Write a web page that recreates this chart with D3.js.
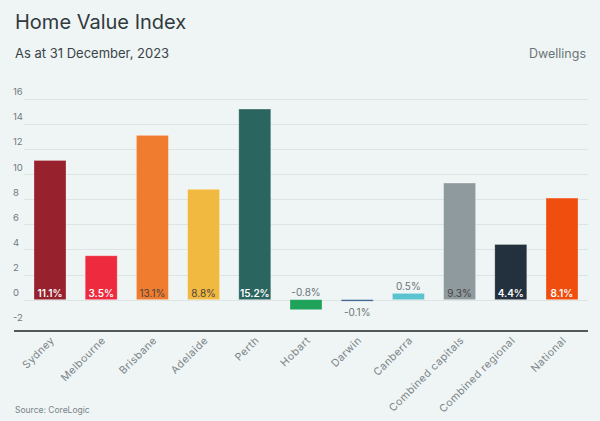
<!DOCTYPE html>
<html lang="en">
<head>
<meta charset="UTF-8">
<title>Home Value Index</title>
<style>
  body { margin: 0; background: #eff4f4; }
  text { font-family: "Inter", "Open Sans", sans-serif; }
</style>
</head>
<body>
<div id="chart"></div>
<script src="https://cdn.jsdelivr.net/npm/d3@7"></script>
<script>
const regions = ["Sydney", "Melbourne", "Brisbane", "Adelaide", "Perth", "Hobart", "Darwin",
                 "Canberra", "Combined capitals", "Combined regional", "National"];
const changes = [11.1, 3.5, 13.1, 8.8, 15.2, -0.8, -0.1, 0.5, 9.3, 4.4, 8.1];
const colours = ["#97212d", "#ee2a3f", "#f07c30", "#f2b940", "#2b6560", "#1fa35a", "#2d5a8a",
                 "#5bc2d0", "#8e9a9e", "#23313e", "#f04e0e"];
const yTicks = [-2, 0, 2, 4, 6, 8, 10, 12, 14, 16];
// bars whose label sits inside in dark text
const darkLabel = ["Brisbane", "Adelaide", "Combined capitals"];

const width = 600, height = 421;

const svg = d3.select("#chart").append("svg")
    .attr("width", width)
    .attr("height", height)
    .style("background-color", "#eff4f4");

const x = d3.scaleBand()
    .domain(regions)
    .range([24.4, 587.6])
    .paddingInner(0.375)
    .paddingOuter(0.1875);

const y = d3.scaleLinear()
    .domain([-2.5, 16])
    .range([331, 99]);

// title block
svg.append("text").attr("x", 15).attr("y", 29)
    .attr("font-size", 20).attr("fill", "#2f3a3e")
    .text("Home Value Index");
svg.append("text").attr("x", 15).attr("y", 58)
    .attr("font-size", 13).attr("fill", "#3a4448")
    .text("As at 31 December, 2023");
svg.append("text").attr("x", 586).attr("y", 58)
    .attr("text-anchor", "end")
    .attr("font-size", 12.5).attr("fill", "#6b7478")
    .text("Dwellings");

// grid + y labels
const grid = svg.append("g");
grid.selectAll("line")
    .data(yTicks.filter(d => d >= 0))
    .join("line")
    .attr("x1", 24).attr("x2", 588)
    .attr("y1", d => Math.round(y(d)) + 0.5)
    .attr("y2", d => Math.round(y(d)) + 0.5)
    .attr("stroke", "#dde4e4");
grid.selectAll("text")
    .data(yTicks)
    .join("text")
    .attr("x", 13)
    .attr("y", d => y(d) - 7)
    .attr("dy", "0.35em")
    .attr("font-size", 9.5)
    .attr("fill", "#707a7e")
    .text(d => d);

// bars
svg.append("g")
    .selectAll("rect")
    .data(regions)
    .join("rect")
    .attr("x", d => x(d))
    .attr("width", x.bandwidth())
    .attr("y", (d, i) => y(Math.max(0, changes[i])))
    .attr("height", (d, i) => Math.max(1.5, Math.abs(y(changes[i]) - y(0))))
    .attr("fill", (d, i) => colours[i])
    .attr("stroke", "#ffffff")
    .attr("stroke-opacity", 0.35)
    .attr("stroke-width", 0.8);

// value labels
svg.append("g")
    .selectAll("text")
    .data(regions)
    .join("text")
    .attr("x", d => x(d) + x.bandwidth() / 2)
    .attr("y", (d, i) => {
        const v = changes[i];
        if (v >= 2) return y(0) - 6;
        if (v >= 0) return y(v) - 7;
        if (v > -0.5) return y(0) + 13;
        return y(0) - 7;
    })
    .attr("dy", "0.35em")
    .attr("text-anchor", "middle")
    .attr("font-size", 10)
    .attr("font-weight", (d, i) => changes[i] >= 2 && !darkLabel.includes(d) ? 600 : 400)
    .attr("fill", (d, i) => {
        if (changes[i] < 2) return "#6b7478";
        return darkLabel.includes(d) ? "#4a4440" : "#ffffff";
    })
    .text((d, i) => changes[i].toFixed(1) + "%");

// x axis line
svg.append("line")
    .attr("x1", 14).attr("x2", 588)
    .attr("y1", 331).attr("y2", 331)
    .attr("stroke", "#1f2628")
    .attr("stroke-width", 1.6);

// category labels
svg.append("g")
    .selectAll("text")
    .data(regions)
    .join("text")
    .attr("transform", d => `translate(${x(d) + x.bandwidth() / 2 + 5},${341}) rotate(-45)`)
    .attr("text-anchor", "end")
    .attr("font-size", 10.5)
    .attr("letter-spacing", 0.5)
    .attr("fill", "#7a8488")
    .text(d => d);

svg.append("text").attr("x", 15).attr("y", 413)
    .attr("font-size", 8.5).attr("fill", "#7a8488")
    .text("Source: CoreLogic");
</script>
</body>
</html>
